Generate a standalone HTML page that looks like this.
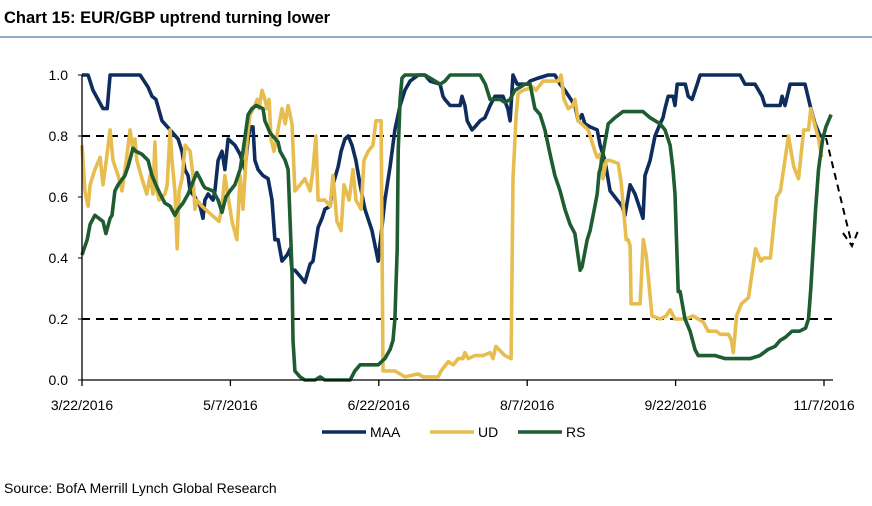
<!DOCTYPE html>
<html><head><meta charset="utf-8"><style>
body{margin:0;background:#fff;width:872px;height:501px;overflow:hidden;font-family:"Liberation Sans",Arial,sans-serif}
</style></head><body>
<svg width="872" height="501" xmlns="http://www.w3.org/2000/svg">
<text x="4" y="23" font-size="16.5" font-weight="bold" fill="#000">Chart 15: EUR/GBP uptrend turning lower</text>
<line x1="0" y1="37" x2="872" y2="37" stroke="#6d8fb5" stroke-width="1.5"/>
<g id="plot"></g>
<text x="4" y="493" font-size="14" fill="#000">Source: BofA Merrill Lynch Global Research</text>
</svg>
<script>
const tickLabels=["3/22/2016","5/7/2016","6/22/2016","8/7/2016","9/22/2016","11/7/2016"];
const tickDays=[0,46,92,138,184,230];
const yTicks=[0,0.2,0.4,0.6,0.8,1.0];
const refLevels=[0.2,0.8];
const seriesNames=["MAA","UD","RS"];
const maaDays=[0,1.9,3.4,6.5,7.8,8.7,18,20.5,21.7,22.9,24.8,27.3,29.8,31,31.9,32.9,33.5,35,36.6,37.5,38.1,39.1,40.6,41.2,42.2,43.4,44.3,45.3,47.4,49,50.5,51.5,52.1,53,53.6,54.6,56.1,57.7,58.9,59.8,60.8,62,63.6,64.5,65.1,66,67.6,69.1,70.7,71.6,73.2,74.4,75.3,76.9,77.8,79.4,80.3,81.5,82.5,83.7,84.9,86.2,87.7,89.9,91.8,93.9,95.5,97,98.6,100.1,101.7,104.2,106.3,107.9,111,111.9,112.5,114.1,117.2,117.8,118.7,119.4,120.9,121.8,123.4,124.9,126.5,128,130.5,132,132.7,133.6,134.9,138,138.9,141.4,144.5,146.6,148.2,149.7,152.8,153.8,155,155.9,157.5,159.7,160.6,162.1,163.7,165.2,167.4,168.3,169.9,171.4,173,173.9,174.5,176.1,177.6,179.2,180.1,180.7,181.7,183.2,183.8,184.5,187,187.9,189.1,190.7,191.6,204,205.5,208.6,210.8,211.7,216.4,217,217.9,219.5,224.1,225.7,227.2,228.8,230.3];
const maaVals=[1,1,0.95,0.89,0.89,1,1,0.96,0.93,0.92,0.85,0.82,0.79,0.75,0.69,0.67,0.62,0.6,0.57,0.53,0.59,0.61,0.59,0.62,0.72,0.75,0.69,0.79,0.77,0.74,0.69,0.79,0.83,0.83,0.72,0.69,0.67,0.66,0.59,0.46,0.46,0.39,0.41,0.43,0.36,0.36,0.34,0.32,0.38,0.39,0.5,0.53,0.56,0.57,0.64,0.7,0.75,0.79,0.8,0.77,0.72,0.64,0.56,0.49,0.39,0.59,0.7,0.82,0.9,0.95,0.98,1,1,0.98,0.97,0.93,0.92,0.9,0.9,0.93,0.9,0.85,0.82,0.83,0.85,0.86,0.9,0.93,0.93,0.89,0.85,1,0.97,0.97,0.98,0.99,1,1,0.97,0.95,0.9,0.85,0.87,0.84,0.83,0.82,0.77,0.72,0.62,0.6,0.57,0.54,0.64,0.61,0.56,0.53,0.67,0.72,0.8,0.84,0.86,0.89,0.93,0.93,0.9,0.97,0.97,0.93,0.92,0.97,1,1,0.97,0.97,0.93,0.9,0.9,0.93,0.9,0.97,0.97,0.9,0.84,0.8,0.8];
const udDays=[0,0.9,1.9,2.5,4,5.6,6.5,7.4,8.7,9.6,11.2,12.4,13.6,14.9,15.8,16.4,17,18.6,20.1,21.1,22,22.6,23.2,23.9,25.7,26.4,27.3,27.9,28.8,29.5,30.1,31,32,33.5,34.4,35,35.6,37.2,40.3,42.5,43.4,44.3,45,46.5,48,49,49.9,51.2,52.1,53.6,54.3,54.9,55.8,56.7,57.3,58,58.6,59.5,62,63,63.9,65.1,66,67.6,69.1,70.7,71.6,72.5,73.2,75.3,76.9,77.8,79,80.3,81.2,82.8,84,84.9,86.5,87.4,88.7,90.2,91.1,92.1,92.7,93.3,97,98.6,100.1,104.2,105.8,110.4,111.3,113.5,115.1,116.6,118.1,118.7,119.7,121.8,124.3,126.5,127.4,128.3,131.1,133,133.6,134.6,135.2,136.7,139.8,140.7,142.9,146,147.6,148.5,149.4,150.7,152.2,152.8,153.8,156.9,158.4,159,159.7,160.6,161.5,162.5,163.7,166.2,167.1,168.7,169.3,169.9,170.2,173,174,174.9,176.7,179.2,181.1,182.3,183.8,187.3,189.4,192.6,194.1,196.6,197.9,200.4,201.3,201.9,202.9,204.4,206.6,208.8,210.4,211.3,213.4,215.3,216.5,219,220.6,222.1,223.7,225.2,225.9,226.8,228.3,229.3];
const udVals=[0.77,0.62,0.57,0.64,0.69,0.73,0.64,0.71,0.82,0.72,0.67,0.62,0.71,0.82,0.75,0.79,0.72,0.66,0.61,0.67,0.61,0.78,0.62,0.59,0.61,0.64,0.82,0.72,0.62,0.43,0.62,0.66,0.77,0.75,0.67,0.56,0.59,0.57,0.54,0.52,0.57,0.67,0.62,0.52,0.46,0.67,0.56,0.79,0.87,0.9,0.92,0.89,0.95,0.92,0.89,0.92,0.79,0.75,0.89,0.84,0.9,0.84,0.62,0.64,0.66,0.62,0.69,0.8,0.59,0.59,0.57,0.67,0.52,0.49,0.64,0.59,0.69,0.59,0.56,0.72,0.75,0.77,0.85,0.85,0.85,0.03,0.03,0.02,0.01,0.02,0.01,0.01,0.03,0.06,0.05,0.07,0.07,0.09,0.07,0.08,0.08,0.09,0.07,0.11,0.08,0.07,0.66,0.87,0.94,0.95,0.96,0.95,0.98,0.98,0.98,1,0.92,0.89,0.9,0.92,0.85,0.82,0.77,0.75,0.73,0.74,0.66,0.72,0.72,0.71,0.65,0.46,0.46,0.44,0.25,0.25,0.46,0.41,0.21,0.2,0.21,0.23,0.2,0.2,0.21,0.19,0.16,0.16,0.15,0.15,0.13,0.09,0.21,0.25,0.27,0.43,0.39,0.4,0.4,0.6,0.62,0.8,0.7,0.66,0.82,0.82,0.89,0.85,0.79,0.73];
const rsDays=[0,1.6,2.5,4,6.5,7.4,8.7,9.3,10.2,11.2,13.3,14.3,15.8,16.7,18.6,20.5,21.7,22.9,24.2,25.7,27.3,28.8,29.8,31.3,32.9,34.4,35.6,36.6,37.5,38.1,40.6,42.2,43.4,44.6,45.9,47.4,49,49.9,51.5,52.7,54,56.1,56.7,58.3,60.8,61.4,63,63.9,65.1,65.4,66,67.6,69.1,72.2,73.8,75.3,83.1,84.6,86.2,89.3,91.8,93.9,95.5,96.4,97,97.7,98,98.6,99.2,100.1,106.3,107.9,111,112.5,114.1,121.8,123.4,125,126.5,129.6,131.1,132.7,134.2,137.3,138.9,140.4,142,143.5,145.1,146.6,148.2,149.7,151.3,152.8,154.4,155,156.6,157.5,159,159.7,160.3,160.6,163.1,165.2,167.7,173.9,176.1,179.2,180.7,182.3,183.2,183.8,184.8,185.4,186.9,188.5,190,191,196.3,199.4,204,207.1,210.1,212.6,214.8,216.4,218,220.1,222.4,224.3,225.2,225.9,227.4,228.3,229.6,230.6,232.2];
const rsVals=[0.41,0.46,0.51,0.54,0.52,0.48,0.53,0.54,0.62,0.64,0.67,0.7,0.76,0.75,0.74,0.72,0.67,0.64,0.61,0.58,0.57,0.54,0.56,0.58,0.61,0.65,0.68,0.66,0.64,0.63,0.62,0.59,0.55,0.6,0.62,0.64,0.69,0.75,0.87,0.89,0.9,0.89,0.85,0.81,0.78,0.75,0.72,0.69,0.36,0.13,0.03,0.01,0,0,0.01,0,0,0.03,0.05,0.05,0.05,0.07,0.1,0.13,0.2,0.43,0.75,0.92,0.99,1,1,0.99,0.97,0.98,1,1,1,0.97,0.92,0.92,0.91,0.92,0.95,0.97,0.97,0.89,0.87,0.82,0.74,0.67,0.62,0.56,0.51,0.48,0.36,0.37,0.46,0.49,0.57,0.61,0.68,0.69,0.84,0.86,0.88,0.88,0.86,0.84,0.82,0.77,0.69,0.61,0.29,0.29,0.2,0.16,0.1,0.08,0.08,0.07,0.07,0.07,0.08,0.1,0.11,0.13,0.14,0.16,0.16,0.17,0.2,0.3,0.56,0.69,0.79,0.83,0.87];

const X0=82,X1=824,Y0=380,Y1=75;
function xs(d){return X0+(d/230)*(X1-X0);}
function ys(v){return Y0-v*(Y0-Y1);}
const NS="http://www.w3.org/2000/svg";
const plot=document.getElementById('plot');
function mk(tag,attrs){const e=document.createElementNS(NS,tag);for(const k in attrs)e.setAttribute(k,attrs[k]);plot.appendChild(e);return e;}

yTicks.forEach(v=>{
  const t=mk('text',{x:68,y:ys(v)+5,'font-size':14,'text-anchor':'end',fill:'#000'});
  t.textContent=v.toFixed(1);
  
  
  const l=mk('line',{x1:X0-4,x2:X0,y1:ys(v),y2:ys(v),stroke:'#000'});
  
  
});
tickDays.forEach((d,i)=>{
  const l=mk('line',{x1:xs(d),x2:xs(d),y1:Y0,y2:Y0+6,stroke:'#000','stroke-width':1.3});
  
  
  const t=mk('text',{x:xs(d),y:Y0+30,'font-size':14,'text-anchor':'middle',fill:'#000'});
  t.textContent=tickLabels[i];
  
  
});
refLevels.forEach(v=>{
  const l=mk('line',{x1:X0,x2:833,y1:ys(v),y2:ys(v),stroke:'#000','stroke-width':2,'stroke-dasharray':'8,6'});
  
  
});
const colors=['#0e2d5e','#e6bd4e','#1f5c31'];
[[maaDays,maaVals],[udDays,udVals],[rsDays,rsVals]].forEach((s,i)=>{
  const pts=s[0].map((d,j)=>xs(d).toFixed(1)+','+ys(s[1][j]).toFixed(1)).join(' ');
  const p=mk('polyline',{points:pts,fill:'none',stroke:colors[i],'stroke-width':3.6,'stroke-linejoin':'round'});
  
  
});
const ax=mk('path',{d:`M${X0},${Y1} V${Y0} H833`,fill:'none',stroke:'#000','stroke-width':1.3});


const ar=mk('path',{d:'M826,138 L852,245 M843,233 L852,246 L858,231',fill:'none',stroke:'#000','stroke-width':2,'stroke-dasharray':'7,5'});


const lx=[322,430,518];
seriesNames.forEach((n,i)=>{
  const l=mk('line',{x1:lx[i],x2:lx[i]+44,y1:432,y2:432,stroke:colors[i],'stroke-width':3.6});
  
  
  const t=mk('text',{x:lx[i]+48,y:437,'font-size':14,fill:'#000'});
  t.textContent=n;
  
  
});
</script>
</body></html>
